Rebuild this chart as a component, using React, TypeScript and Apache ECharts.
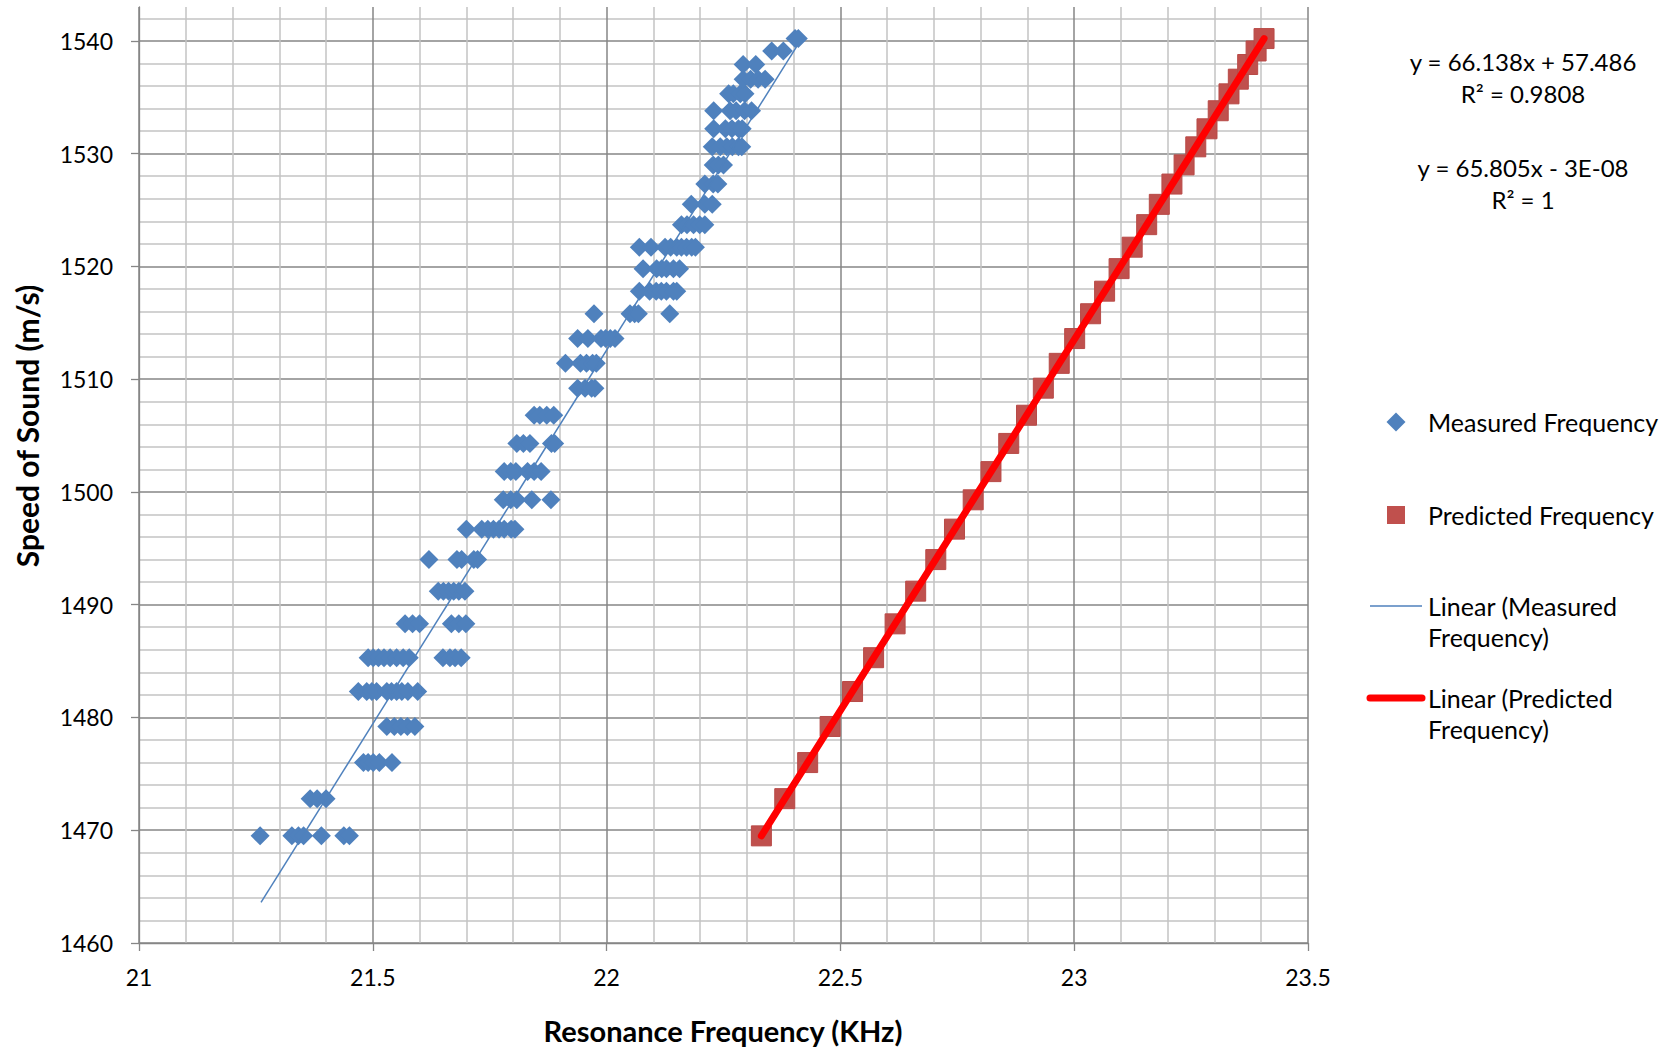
import React, { useEffect, useRef } from 'react';
import * as echarts from 'echarts';

// Speed of sound levels (m/s)
const speedLevels = [
  1469.5, 1472.8, 1476.0, 1479.2, 1482.3, 1485.3, 1488.3, 1491.2, 1494.0, 1496.7,
  1499.3, 1501.8, 1504.3, 1506.8, 1509.2, 1511.4, 1513.6, 1515.8, 1517.8, 1519.8,
  1521.7, 1523.7, 1525.5, 1527.3, 1529.0, 1530.6, 1532.2, 1533.8, 1535.3, 1536.6,
  1537.9, 1539.1, 1540.2,
];

// Measured resonance frequencies (KHz) at each speed level
const measuredFreqs = [
  [21.259, 21.327, 21.341, 21.352, 21.390, 21.438, 21.450],
  [21.366, 21.381, 21.400],
  [21.480, 21.490, 21.501, 21.514, 21.541],
  [21.530, 21.546, 21.560, 21.574, 21.590],
  [21.469, 21.487, 21.498, 21.508, 21.530, 21.540, 21.551, 21.562, 21.575, 21.596],
  [21.490, 21.501, 21.512, 21.524, 21.537, 21.551, 21.565, 21.578, 21.650, 21.665, 21.676, 21.689],
  [21.569, 21.585, 21.600, 21.668, 21.684, 21.699],
  [21.640, 21.651, 21.662, 21.673, 21.684, 21.697],
  [21.620, 21.680, 21.690, 21.716, 21.724],
  [21.700, 21.733, 21.746, 21.758, 21.770, 21.781, 21.796, 21.804],
  [21.779, 21.795, 21.808, 21.840, 21.881],
  [21.781, 21.795, 21.806, 21.831, 21.845, 21.860],
  [21.808, 21.822, 21.836, 21.882, 21.889],
  [21.845, 21.857, 21.872, 21.887],
  [21.938, 21.954, 21.968, 21.975],
  [21.912, 21.944, 21.957, 21.970, 21.978],
  [21.938, 21.960, 21.988, 21.998, 22.008, 22.018],
  [21.973, 22.050, 22.060, 22.068, 22.135],
  [22.070, 22.092, 22.106, 22.117, 22.128, 22.143, 22.150],
  [22.078, 22.107, 22.118, 22.128, 22.143, 22.156],
  [22.070, 22.095, 22.125, 22.137, 22.150, 22.160, 22.171, 22.182, 22.190],
  [22.160, 22.172, 22.186, 22.199, 22.210],
  [22.181, 22.210, 22.226],
  [22.210, 22.228, 22.238],
  [22.228, 22.239, 22.250],
  [22.226, 22.243, 22.257, 22.269, 22.282, 22.289],
  [22.229, 22.254, 22.268, 22.282, 22.290],
  [22.229, 22.264, 22.277, 22.295, 22.310],
  [22.261, 22.271, 22.286, 22.296],
  [22.292, 22.308, 22.324, 22.339],
  [22.292, 22.319],
  [22.353, 22.378],
  [22.403, 22.410],
];

// Predicted resonance frequencies (KHz) at each speed level
const predictedFreqs = [
  22.331, 22.381, 22.430, 22.478, 22.526, 22.571, 22.617, 22.661, 22.704, 22.744,
  22.784, 22.822, 22.860, 22.898, 22.934, 22.968, 23.001, 23.035, 23.065, 23.096,
  23.124, 23.155, 23.182, 23.209, 23.235, 23.260, 23.284, 23.308, 23.331, 23.351,
  23.371, 23.389, 23.406,
];

// Trendline end points [freq, speed]
const measuredTrend = [[21.261, 1463.6], [22.408, 1539.6]];
const predictedTrend = [[22.331, 1469.5], [23.406, 1540.2]];

const equationLines = ['y = 66.138x + 57.486', 'R² = 0.9808', 'y = 65.805x - 3E-08', 'R² = 1'];
const seriesNames = ['Measured Frequency', 'Predicted Frequency'];

const FONT = 'Lato, "Noto Sans", sans-serif';
const MAJ = '#868686';
const MIN = '#C3C3C3';
const BLUE = '#4F81BD';
const SQRED = '#C0504D';

export default function App() {
  const ref = useRef<HTMLDivElement>(null);
  useEffect(() => {
    if (!ref.current) return;
    const chart = echarts.init(ref.current, null, { renderer: 'svg' });

    const measuredData: number[][] = [];
    measuredFreqs.forEach((row, i) => row.forEach((f) => measuredData.push([f, speedLevels[i]])));
    const predictedData = predictedFreqs.map((f, i) => [f, speedLevels[i]]);

    const gridRect = { left: 139, width: 1169 };
    const bottomPx = 943;
    const topPx = 7;
    const pxPerUnit = (bottomPx - topPx) / 83;
    const labelTop = bottomPx - 80 * pxPerUnit;

    const txt = (text: string, x: number, y: number, size: number, align = 'center', weight = 'normal') => ({
      type: 'text',
      x,
      y,
      style: {
        text,
        fill: '#000',
        font: `${weight} ${size}px ${FONT}`,
        align,
        verticalAlign: 'middle',
        textAlign: align,
        textVerticalAlign: 'middle',
      },
      z: 10,
    });

    chart.setOption({
      animation: false,
      backgroundColor: '#fff',
      grid: [
        { ...gridRect, top: topPx, height: bottomPx - topPx, containLabel: false, outerBoundsMode: 'none' },
        { ...gridRect, top: labelTop, height: bottomPx - labelTop, containLabel: false, outerBoundsMode: 'none' },
      ],
      xAxis: [
        {
          type: 'value', gridIndex: 0, min: 21, max: 23.5, interval: 0.1,
          axisLine: { show: true, onZero: false, lineStyle: { color: MAJ, width: 1.3 } },
          axisTick: { show: false }, axisLabel: { show: false },
          splitLine: { show: true, lineStyle: { color: [MAJ, MIN, MIN, MIN, MIN], width: 1.5 } },
        },
        {
          type: 'value', gridIndex: 1, min: 21, max: 23.5, interval: 0.5,
          axisLine: { show: false, onZero: false },
          axisTick: { show: true, length: 8, lineStyle: { color: MAJ, width: 1.3 } },
          axisLabel: {
            show: true, margin: 22, fontSize: 23, fontFamily: FONT, color: '#000',
            formatter: (v: number) => String(v),
          },
          splitLine: { show: false },
        },
      ],
      yAxis: [
        {
          type: 'value', gridIndex: 0, min: 1460, max: 1543, interval: 2,
          axisLine: { show: true, onZero: false, lineStyle: { color: MAJ, width: 1.3 } },
          axisTick: { show: false }, axisLabel: { show: false },
          splitLine: { show: true, showMaxLine: false, lineStyle: { color: [MAJ, MIN, MIN, MIN, MIN], width: 1.5 } },
        },
        {
          type: 'value', gridIndex: 1, min: 1460, max: 1540, interval: 10,
          axisLine: { show: false, onZero: false },
          axisTick: { show: true, length: 8, lineStyle: { color: MAJ, width: 1.3 } },
          axisLabel: {
            show: true, margin: 26, fontSize: 23, fontFamily: FONT, color: '#000',
            formatter: (v: number) => String(v),
          },
          splitLine: { show: false },
        },
      ],
      series: [
        {
          name: seriesNames[0], type: 'scatter', xAxisIndex: 0, yAxisIndex: 0,
          symbol: 'diamond', symbolSize: 19, itemStyle: { color: BLUE, opacity: 1 },
          data: measuredData, z: 2,
        },
        {
          name: seriesNames[1], type: 'scatter', xAxisIndex: 0, yAxisIndex: 0,
          symbol: 'rect', symbolSize: 20, itemStyle: { color: SQRED, borderColor: '#B84A47', borderWidth: 1, opacity: 1 },
          data: predictedData, z: 2,
        },
        {
          name: 'Linear (Measured Frequency)', type: 'line', xAxisIndex: 0, yAxisIndex: 0,
          symbol: 'none', showSymbol: false, data: measuredTrend,
          lineStyle: { color: BLUE, width: 1.5 }, z: 4,
        },
        {
          name: 'Linear (Predicted Frequency)', type: 'line', xAxisIndex: 0, yAxisIndex: 0,
          symbol: 'none', showSymbol: false, data: predictedTrend,
          lineStyle: { color: '#FF0000', width: 7, cap: 'round' }, z: 4,
        },
      ],
      graphic: [
        txt(equationLines[0], 1523, 61, 24),
        txt(equationLines[1], 1523, 93, 24),
        txt(equationLines[2], 1523, 167, 24),
        txt(equationLines[3], 1523, 199, 24),
        // legend
        {
          type: 'polygon', z: 10,
          shape: { points: [[1396, 412.5], [1405.5, 422], [1396, 431.5], [1386.5, 422]] },
          style: { fill: BLUE },
        },
        txt(seriesNames[0], 1428, 422, 25, 'left'),
        { type: 'rect', z: 10, shape: { x: 1387, y: 506, width: 18, height: 18 }, style: { fill: SQRED } },
        txt(seriesNames[1], 1428, 515, 25, 'left'),
        { type: 'line', z: 10, shape: { x1: 1370, y1: 606, x2: 1422, y2: 606 }, style: { stroke: BLUE, lineWidth: 1.5 } },
        txt('Linear (Measured', 1428, 606, 25, 'left'),
        txt('Frequency)', 1428, 637, 25, 'left'),
        { type: 'line', z: 10, shape: { x1: 1370, y1: 698, x2: 1422, y2: 698 }, style: { stroke: '#FF0000', lineWidth: 7, lineCap: 'round' } },
        txt('Linear (Predicted', 1428, 698, 25, 'left'),
        txt('Frequency)', 1428, 729, 25, 'left'),
        // axis titles
        txt('Resonance Frequency (KHz)', 723, 1030, 29, 'center', 'bold'),
        { ...txt('Speed of Sound (m/s)', 27, 426, 30, 'center', 'bold'), rotation: Math.PI / 2 },
      ],
    });
    return () => chart.dispose();
  }, []);
  return (
    <div
      ref={ref}
      style={{ position: 'fixed', left: 0, top: 0, width: 1676, height: 1047, background: '#fff' }}
    />
  );
}
